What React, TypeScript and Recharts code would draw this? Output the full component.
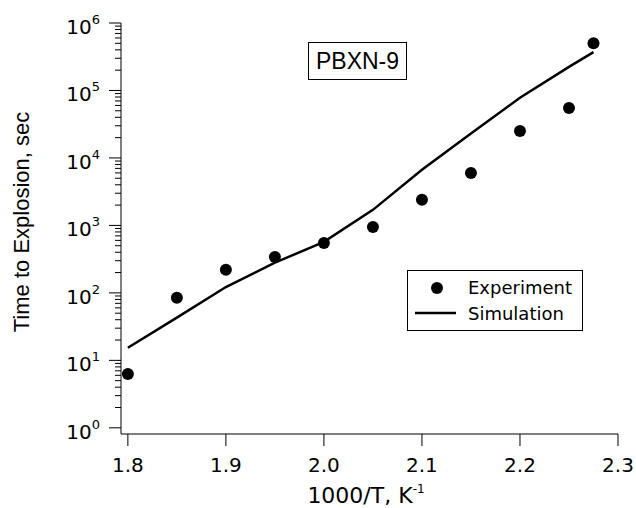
import React from 'react';
import {
    ComposedChart,
    Line,
    Scatter,
    XAxis,
    YAxis,
    Customized
} from 'recharts';

// 1000/T values and times to explosion (sec)
const invTemp = [1.8, 1.85, 1.9, 1.95, 2.0, 2.05, 2.1, 2.15, 2.2, 2.25, 2.275];
const experiment = [6.3, 85, 220, 340, 550, 950, 2400, 6000, 25000, 55000, 500000];
const simulation = [15.4, 43, 122, 280, 570, 1700, 6700, 23000, 78000, 224000, 370000];

const xTicks = [1.8, 1.9, 2.0, 2.1, 2.2, 2.3];
const decades = [0, 1, 2, 3, 4, 5, 6];

const yTicks: number[] = [];
decades.forEach((d) => {
    if (d === 6) {
        yTicks.push(1e6);
        return;
    }
    for (let m = 1; m < 10; m++) yTicks.push(m * Math.pow(10, d));
});

const expData = invTemp.map((x, i) => ({ x, y: experiment[i] }));
const simData = invTemp.map((x, i) => ({ x, y: simulation[i] }));

const FONT = '"DejaVu Sans", Verdana, sans-serif';
const HELV = '"Liberation Sans", Arial, sans-serif';

function LogTick(props: any) {
    const { x, y, payload } = props;
    const v = payload.value;
    const exp = Math.log10(v);
    const major = Math.abs(exp - Math.round(exp)) < 1e-6;
    return (
        <g>
            <line x1={x - (major ? 12 : 6)} x2={x} y1={y} y2={y} stroke="#000" strokeWidth={1} />
            {major && (
                <text x={x - 21} y={y + 11} textAnchor="end" fontFamily={FONT} fontSize={20} fill="#000">
                    10
                    <tspan dy={-10} fontSize={13}>{Math.round(exp)}</tspan>
                </text>
            )}
        </g>
    );
}

function XTick(props: any) {
    const { x, y, payload } = props;
    return (
        <text x={x} y={y + 26} textAnchor="middle" fontFamily={FONT} fontSize={20} fill="#000">
            {payload.value.toFixed(1)}
        </text>
    );
}

function Annotations() {
    return (
        <g fill="#000">
            <rect x={308.5} y={42.5} width={98} height={37} fill="#fff" stroke="#000" strokeWidth={1} />
            <text x={357.5} y={69} textAnchor="middle" fontFamily={HELV} fontSize={23}>PBXN-9</text>

            <rect x={407.5} y={270.5} width={175} height={60} fill="#fff" stroke="#000" strokeWidth={1} />
            <circle cx={437} cy={288} r={6} fill="#000" />
            <text x={468} y={294} fontFamily={FONT} fontSize={18}>Experiment</text>
            <line x1={415} x2={456} y1={313} y2={313} stroke="#000" strokeWidth={2.5} />
            <text x={468} y={320} fontFamily={FONT} fontSize={18}>Simulation</text>
        </g>
    );
}

export default function App() {
    return (
        <div style={{ position: 'absolute', left: 0, top: 0, width: 636, height: 508, background: '#fff' }}>
            <ComposedChart
                width={636}
                height={508}
                margin={{ top: 23, right: 18, left: 0, bottom: 0 }}
            >
                <XAxis
                    dataKey="x"
                    type="number"
                    domain={[1.793, 2.3]}
                    ticks={xTicks}
                    allowDataOverflow
                    height={74}
                    stroke="#000"
                    tickSize={12}
                    tickMargin={0}
                    tick={<XTick />}
                    interval={0}
                    label={() => (
                        <text x={366} y={503} textAnchor="middle" fontFamily={FONT} fontSize={22} fill="#000">
                            1000/T, K
                            <tspan dy={-10} fontSize={12}>-1</tspan>
                        </text>
                    )}
                />
                <YAxis
                    dataKey="y"
                    type="number"
                    scale="log"
                    domain={[0.81, 1e6]}
                    ticks={yTicks}
                    allowDataOverflow
                    width={121}
                    stroke="#000"
                    tickLine={false}
                    tickSize={0}
                    tickMargin={0}
                    interval={0}
                    tick={<LogTick />}
                    label={() => (
                        <text
                            x={29}
                            y={222}
                            textAnchor="middle"
                            fontFamily={HELV}
                            fontSize={22}
                            fill="#000"
                            transform="rotate(-90, 29, 222)"
                        >
                            Time to Explosion, sec
                        </text>
                    )}
                />
                <Line
                    data={simData}
                    dataKey="y"
                    type="linear"
                    stroke="#000"
                    strokeWidth={2.5}
                    dot={false}
                    isAnimationActive={false}
                />
                <Scatter
                    data={expData}
                    dataKey="y"
                    fill="#000"
                    shape={(p: any) => <circle cx={p.cx} cy={p.cy} r={6} fill="#000" />}
                    isAnimationActive={false}
                />
                <Customized component={Annotations} />
            </ComposedChart>
        </div>
    );
}
